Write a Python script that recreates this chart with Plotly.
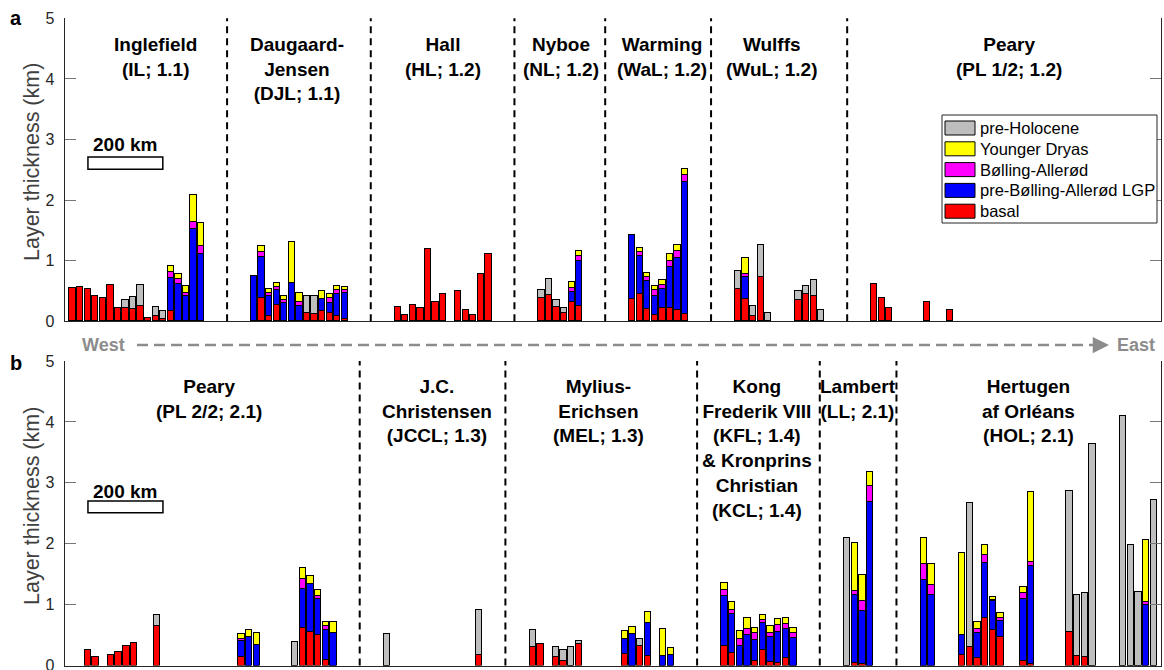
import plotly.graph_objects as go

W, H = 1164, 670
X0, X1 = 64.5, 1161.0          # plot area left / right (px)
A_TOP, A_BOT = 18.3, 321.3      # panel a: y=5 and y=0 (px)
B_TOP, B_BOT = 361.0, 665.6     # panel b

# ---------------- Panel a data (slot positions and layer thickness, km) ----------------
a_pos = [1, 2, 3, 4, 5, 6, 7, 8, 9, 10, 11, 12, 13, 14, 15, 16, 17, 18,
         25, 26, 27, 28, 29, 30, 31, 32, 33, 34, 35, 36, 37,
         44, 45, 46, 47, 48, 49, 50, 52, 53, 54, 55, 56,
         63, 64, 65, 66, 67, 68,
         75, 76, 77, 78, 79, 80, 81, 82,
         89, 90, 91, 92, 93, 97, 98, 99, 100,
         107, 108, 109, 114, 117]
a_basal = [0.545, 0.56, 0.53, 0.42, 0.38, 0.59, 0.22, 0.21, 0.19, 0.24, 0.05, 0.09, 0.04, 0.165, 0, 0, 0, 0,
           0, 0.38, 0.08, 0.26, 0, 0, 0, 0.14, 0.12, 0.17, 0.13, 0.09, 0.04,
           0.225, 0.10, 0.26, 0.21, 1.19, 0.31, 0.445, 0.495, 0.18, 0.10, 0.775, 1.105,
           0.38, 0.43, 0.23, 0.125, 0.31, 0.245,
           0.36, 0.45, 0.20, 0.10, 0.21, 0.21, 0.175, 0.115,
           0.52, 0.36, 0.08, 0.73, 0, 0.345, 0.45, 0.42, 0,
           0.61, 0.385, 0.215, 0.31, 0.185]
a_lgp = [0, 0, 0, 0, 0, 0, 0, 0, 0, 0, 0, 0, 0, 0.545, 0.615, 0.42, 1.52, 1.105,
         0.735, 0.675, 0.34, 0.245, 0.30, 0.625, 0.25, 0, 0, 0.20, 0.17, 0.35, 0.42,
         0, 0, 0, 0, 0, 0, 0, 0, 0, 0, 0, 0,
         0, 0, 0, 0, 0.17, 0.75,
         1.06, 0.63, 0.465, 0.305, 0.32, 0.68, 0.87, 2.185,
         0, 0.365, 0, 0, 0, 0, 0, 0, 0,
         0, 0, 0, 0, 0]
a_ba = [0, 0, 0, 0, 0, 0, 0, 0, 0, 0, 0, 0, 0, 0.10, 0.085, 0.05, 0.11, 0.135,
        0, 0.085, 0.035, 0.05, 0.05, 0, 0.06, 0, 0, 0, 0.08, 0.065, 0.045,
        0, 0, 0, 0, 0, 0, 0, 0, 0, 0, 0, 0,
        0, 0, 0, 0, 0.065, 0.07,
        0, 0.06, 0.065, 0.10, 0.07, 0.105, 0.115, 0.11,
        0, 0.05, 0, 0, 0, 0, 0, 0, 0,
        0, 0, 0, 0, 0]
a_yd = [0, 0, 0, 0, 0, 0, 0, 0, 0, 0, 0, 0, 0, 0.10, 0.07, 0.10, 0.45, 0.38,
        0, 0.10, 0.065, 0.065, 0.055, 0.675, 0.15, 0, 0, 0.12, 0.065, 0.065, 0.05,
        0, 0, 0, 0, 0, 0, 0, 0, 0, 0, 0, 0,
        0, 0, 0, 0, 0.095, 0.085,
        0, 0.06, 0.06, 0.065, 0.075, 0.105, 0.10, 0.10,
        0, 0.26, 0, 0, 0, 0, 0, 0, 0,
        0, 0, 0, 0, 0]
a_preh = [0, 0, 0, 0, 0, 0, 0, 0.14, 0.21, 0.36, 0, 0.14, 0.13, 0, 0, 0, 0, 0,
          0, 0, 0, 0, 0, 0, 0, 0.265, 0.285, 0, 0, 0, 0,
          0, 0, 0, 0, 0, 0, 0, 0, 0, 0, 0, 0,
          0.135, 0.26, 0.12, 0.085, 0, 0,
          0, 0, 0, 0, 0, 0, 0, 0,
          0.30, 0, 0.165, 0.53, 0.13, 0.145, 0.135, 0.25, 0.185,
          0, 0, 0, 0, 0]

# ---------------- Panel b data ----------------
b_pos = [3, 4, 6, 7, 8, 9, 12, 23, 24, 25, 30, 31, 32, 33, 34, 35,
         42, 54,
         61, 62, 64, 65, 66, 67, 73, 74, 75, 76, 78, 79,
         86, 87, 88, 89, 90, 91, 92, 93, 94, 95,
         102, 103, 104, 105,
         112, 113, 117, 118, 119, 120, 121, 122, 125, 126, 131, 132, 133, 134, 138, 139, 140, 141, 142]
b_basal = [0.25, 0.135, 0.18, 0.22, 0.33, 0.365, 0.645, 0.135, 0, 0, 0, 0.61, 0.555, 0.51, 0.085, 0,
           0, 0.18,
           0.305, 0.36, 0.135, 0.07, 0, 0.35, 0.195, 0, 0.32, 0.165, 0, 0,
           0.315, 0.20, 0, 0, 0.07, 0.255, 0.055, 0.04, 0.13, 0,
           0, 0.04, 0.03, 0,
           0, 0, 0.17, 0.30, 0.125, 0.775, 0.585, 0.475, 0.08, 0.03, 0.55, 0.16, 0.145, 0, 0, 0, 0, 0, 0]
b_lgp = [0, 0, 0, 0, 0, 0, 0, 0.265, 0.465, 0.34, 0, 0.64, 0.785, 0.585, 0.495, 0.535,
         0, 0,
         0, 0, 0, 0, 0, 0, 0.235, 0.52, 0, 0.54, 0.15, 0.18,
         0.825, 0.64, 0.33, 0.50, 0.35, 0.445, 0.41, 0.51, 0.465, 0.46,
         0, 1.125, 0.865, 2.68,
         1.40, 1.155, 0.33, 0, 0.41, 0.905, 0.47, 0.265, 1.01, 1.605, 0, 0, 0, 0, 0, 0, 0, 0.99, 0]
b_ba = [0, 0, 0, 0, 0, 0, 0, 0.04, 0, 0, 0, 0.17, 0, 0.055, 0.07, 0,
        0, 0,
        0, 0, 0, 0, 0, 0, 0, 0, 0, 0, 0, 0,
        0.095, 0.07, 0.11, 0.095, 0.11, 0.05, 0.065, 0.11, 0.085, 0.07,
        0, 0.055, 0.16, 0.27,
        0.275, 0.175, 0, 0, 0.07, 0.14, 0.03, 0.04, 0.10, 0.06, 0, 0, 0, 0, 0, 0, 0, 0.055, 0]
b_yd = [0, 0, 0, 0, 0, 0, 0, 0.08, 0.115, 0.19, 0, 0.18, 0.13, 0.09, 0.065, 0.18,
        0, 0,
        0, 0, 0, 0, 0, 0, 0.13, 0.12, 0, 0.17, 0.445, 0.11,
        0.115, 0.13, 0.13, 0.19, 0.09, 0.075, 0.115, 0.10, 0.105, 0.08,
        0, 0.79, 0.435, 0.225,
        0.425, 0.335, 1.355, 0, 0.105, 0.16, 0.045, 0.08, 0.10, 1.155, 0, 0, 0, 0, 0, 0, 0, 1.015, 0]
b_preh = [0, 0, 0, 0, 0, 0, 0.18, 0, 0, 0, 0.38, 0, 0, 0, 0, 0,
          0.52, 0.73,
          0.285, 0, 0.165, 0.18, 0.30, 0.05, 0, 0, 0.11, 0, 0, 0,
          0, 0, 0, 0, 0, 0, 0, 0, 0, 0,
          2.10, 0, 0, 0,
          0, 0, 0, 2.37, 0, 0, 0, 0, 0, 0, 2.32, 1.005, 1.04, 3.63, 4.10, 1.985, 1.21, 0, 2.725]

# ---------------- Layers, region separators and labels ----------------
layer_names = ["basal", "pre-Bølling-Allerød LGP", "Bølling-Allerød", "Younger Dryas", "pre-Holocene"]
layer_colors = ["#ff0000", "#0000ff", "#ff00ff", "#ffff00", "#bebebe"]

a_seps = [21.5, 40.5, 59.5, 71.5, 85.5, 103.5]
b_seps = [38.5, 57.5, 82.5, 98.5, 108.5]

a_labels = ["Inglefield<br>(IL; 1.1)", "Daugaard-<br>Jensen<br>(DJL; 1.1)", "Hall<br>(HL; 1.2)",
            "Nyboe<br>(NL; 1.2)", "Warming<br>(WaL; 1.2)", "Wulffs<br>(WuL; 1.2)", "Peary<br>(PL 1/2; 1.2)"]
a_label_x = [12.0, 30.8, 50.0, 65.7, 79.0, 93.5, 124.9]
b_labels = ["Peary<br>(PL 2/2; 2.1)", "J.C.<br>Christensen<br>(JCCL; 1.3)", "Mylius-<br>Erichsen<br>(MEL; 1.3)",
            "Kong<br>Frederik VIII<br>(KFL; 1.4)<br>& Kronprins<br>Christian<br>(KCL; 1.4)",
            "Lambert<br>(LL; 2.1)", "Hertugen<br>af Orléans<br>(HOL; 2.1)"]
b_label_x = [18.8, 48.6, 69.6, 90.3, 103.5, 125.7]

a_xmax, b_xmax = 145, 143
y_ticks = [0, 1, 2, 3, 4, 5]
y_title = "Layer thickness (km)"

FONT = "Liberation Sans, Arial, Helvetica, sans-serif"
AXC = "#262626"

def px(x):
    return x / W

def py(y):
    return 1 - y / H

fig = go.Figure()

def add_panel(pos, layers, xa, ya):
    for name, color, vals in zip(layer_names, layer_colors, layers):
        fig.add_trace(go.Bar(
            x=pos, y=vals, name=name, xaxis=xa, yaxis=ya,
            width=0.83, showlegend=False,
            marker=dict(color=color, line=dict(color="black", width=1)),
        ))

add_panel(a_pos, [a_basal, a_lgp, a_ba, a_yd, a_preh], "x", "y")
add_panel(b_pos, [b_basal, b_lgp, b_ba, b_yd, b_preh], "x2", "y2")

xdom = [px(X0), px(X1)]
ydom_a = [py(A_BOT), py(A_TOP)]
ydom_b = [py(B_BOT), py(B_TOP)]

xcommon = dict(showline=True, linecolor=AXC, linewidth=1, ticks="", showticklabels=False,
               showgrid=False, zeroline=False, domain=xdom, automargin=False)
ycommon = dict(range=[0, 5], tickvals=y_ticks, ticks="inside", ticklen=11, tickcolor="#777777",
               tickwidth=1, mirror="ticks", showline=True, linecolor=AXC, linewidth=1,
               showgrid=False, zeroline=False, automargin=False, ticklabelstandoff=6,
               ticklabeloverflow="allow",
               tickfont=dict(family=FONT, size=16, color=AXC))

fig.update_layout(
    width=W, height=H, margin=dict(l=0, r=0, t=0, b=0, autoexpand=False),
    barmode="stack", bargap=0, plot_bgcolor="white", paper_bgcolor="white",
    font=dict(family=FONT),
    xaxis=dict(range=[0, a_xmax], anchor="y", **xcommon),
    yaxis=dict(domain=ydom_a, anchor="x", **ycommon),
    xaxis2=dict(range=[0, b_xmax], anchor="y2", **xcommon),
    yaxis2=dict(domain=ydom_b, anchor="x2", **ycommon),
    showlegend=False,
)

shapes = []
for s in a_seps:
    shapes.append(dict(type="line", xref="x", yref="y domain", x0=s, x1=s, y0=0, y1=1,
                       line=dict(color="black", width=2, dash="7px,5px")))
for s in b_seps:
    shapes.append(dict(type="line", xref="x2", yref="y2 domain", x0=s, x1=s, y0=0, y1=1,
                       line=dict(color="black", width=2, dash="7px,5px")))

# 200 km scale bars
shapes.append(dict(type="rect", xref="x", yref="y", x0=3.1, x1=13.0, y0=2.51, y1=2.71,
                   line=dict(color="black", width=1.5), fillcolor="white"))
shapes.append(dict(type="rect", xref="x2", yref="y2", x0=3.06, x1=12.84, y0=2.51, y1=2.70,
                   line=dict(color="black", width=1.5), fillcolor="white"))

# West-East dashed arrow
AR_Y = py(345)
GRAY = "#8c8c8c"
shapes.append(dict(type="line", xref="paper", yref="paper", x0=px(137), x1=px(1094), y0=AR_Y, y1=AR_Y,
                   line=dict(color=GRAY, width=2.5, dash="11px,6px")))

ann = []

# Legend (box, colour patches, labels) in panel a
LEG_L, LEG_R, LEG_T, LEG_B = 942, 1157, 115, 223
shapes.append(dict(type="rect", xref="paper", yref="paper", x0=px(LEG_L), x1=px(LEG_R),
                   y0=py(LEG_B), y1=py(LEG_T), line=dict(color=AXC, width=1), fillcolor="white"))
leg_order = list(range(len(layer_names)))[::-1]
for i, k in enumerate(leg_order):
    yc = 128 + i * 20.8
    shapes.append(dict(type="rect", xref="paper", yref="paper", x0=px(945), x1=px(975),
                       y0=py(yc + 7), y1=py(yc - 7), line=dict(color="black", width=1),
                       fillcolor=layer_colors[k]))
    ann.append(dict(text=layer_names[k], x=px(978), y=py(yc), xref="paper", yref="paper",
                    xanchor="left", yanchor="middle", showarrow=False,
                    font=dict(family=FONT, size=16.5, color="black")))
fig.update_layout(shapes=shapes)

LBL = dict(family=FONT, size=19, color="black")
for t, x in zip(a_labels, a_label_x):
    ann.append(dict(text="<b>" + t.replace("<br>", "</b><br><b>") + "</b>", x=x, xref="x",
                    y=py(32), yref="paper", xanchor="center", yanchor="top",
                    showarrow=False, font=LBL, align="center"))
for t, x in zip(b_labels, b_label_x):
    ann.append(dict(text="<b>" + t.replace("<br>", "</b><br><b>") + "</b>", x=x, xref="x2",
                    y=py(374), yref="paper", xanchor="center", yanchor="top",
                    showarrow=False, font=LBL, align="center"))
ann.append(dict(text="<b>200 km</b>", x=8.05, xref="x", y=py(145), yref="paper",
                showarrow=False, font=LBL, xanchor="center", yanchor="middle"))
ann.append(dict(text="<b>200 km</b>", x=7.95, xref="x2", y=py(491), yref="paper",
                showarrow=False, font=LBL, xanchor="center", yanchor="middle"))
ann.append(dict(text="<b>a</b>", x=px(16), y=py(18), xref="paper", yref="paper",
                xanchor="center", yanchor="middle",
                showarrow=False, font=dict(family=FONT, size=20, color="black")))
ann.append(dict(text="<b>b</b>", x=px(16), y=py(363), xref="paper", yref="paper",
                xanchor="center", yanchor="middle",
                showarrow=False, font=dict(family=FONT, size=20, color="black")))
# y-axis titles
for yc in (162, 506):
    ann.append(dict(text=y_title, x=px(32), y=py(yc), xref="paper", yref="paper",
                    xanchor="center", yanchor="middle", textangle=-90, showarrow=False,
                    font=dict(family=FONT, size=21.5, color="#404040")))
ann.append(dict(text="<b>West</b>", x=px(103.5), y=AR_Y, xref="paper", yref="paper",
                xanchor="center", yanchor="middle",
                showarrow=False, font=dict(family=FONT, size=18, color=GRAY)))
ann.append(dict(text="<b>East</b>", x=px(1136), y=AR_Y, xref="paper", yref="paper",
                xanchor="center", yanchor="middle",
                showarrow=False, font=dict(family=FONT, size=18, color=GRAY)))
ann.append(dict(text="", x=px(1109), y=AR_Y, ax=-17, ay=0, xref="paper", yref="paper",
                axref="pixel", ayref="pixel", showarrow=True, arrowhead=2, arrowsize=1.3,
                arrowwidth=2.5, arrowcolor=GRAY))
fig.update_layout(annotations=ann)

fig.write_html("out.html", config={"displayModeBar": False},
               post_script="document.body.style.margin='0';document.body.style.overflow='hidden';")
